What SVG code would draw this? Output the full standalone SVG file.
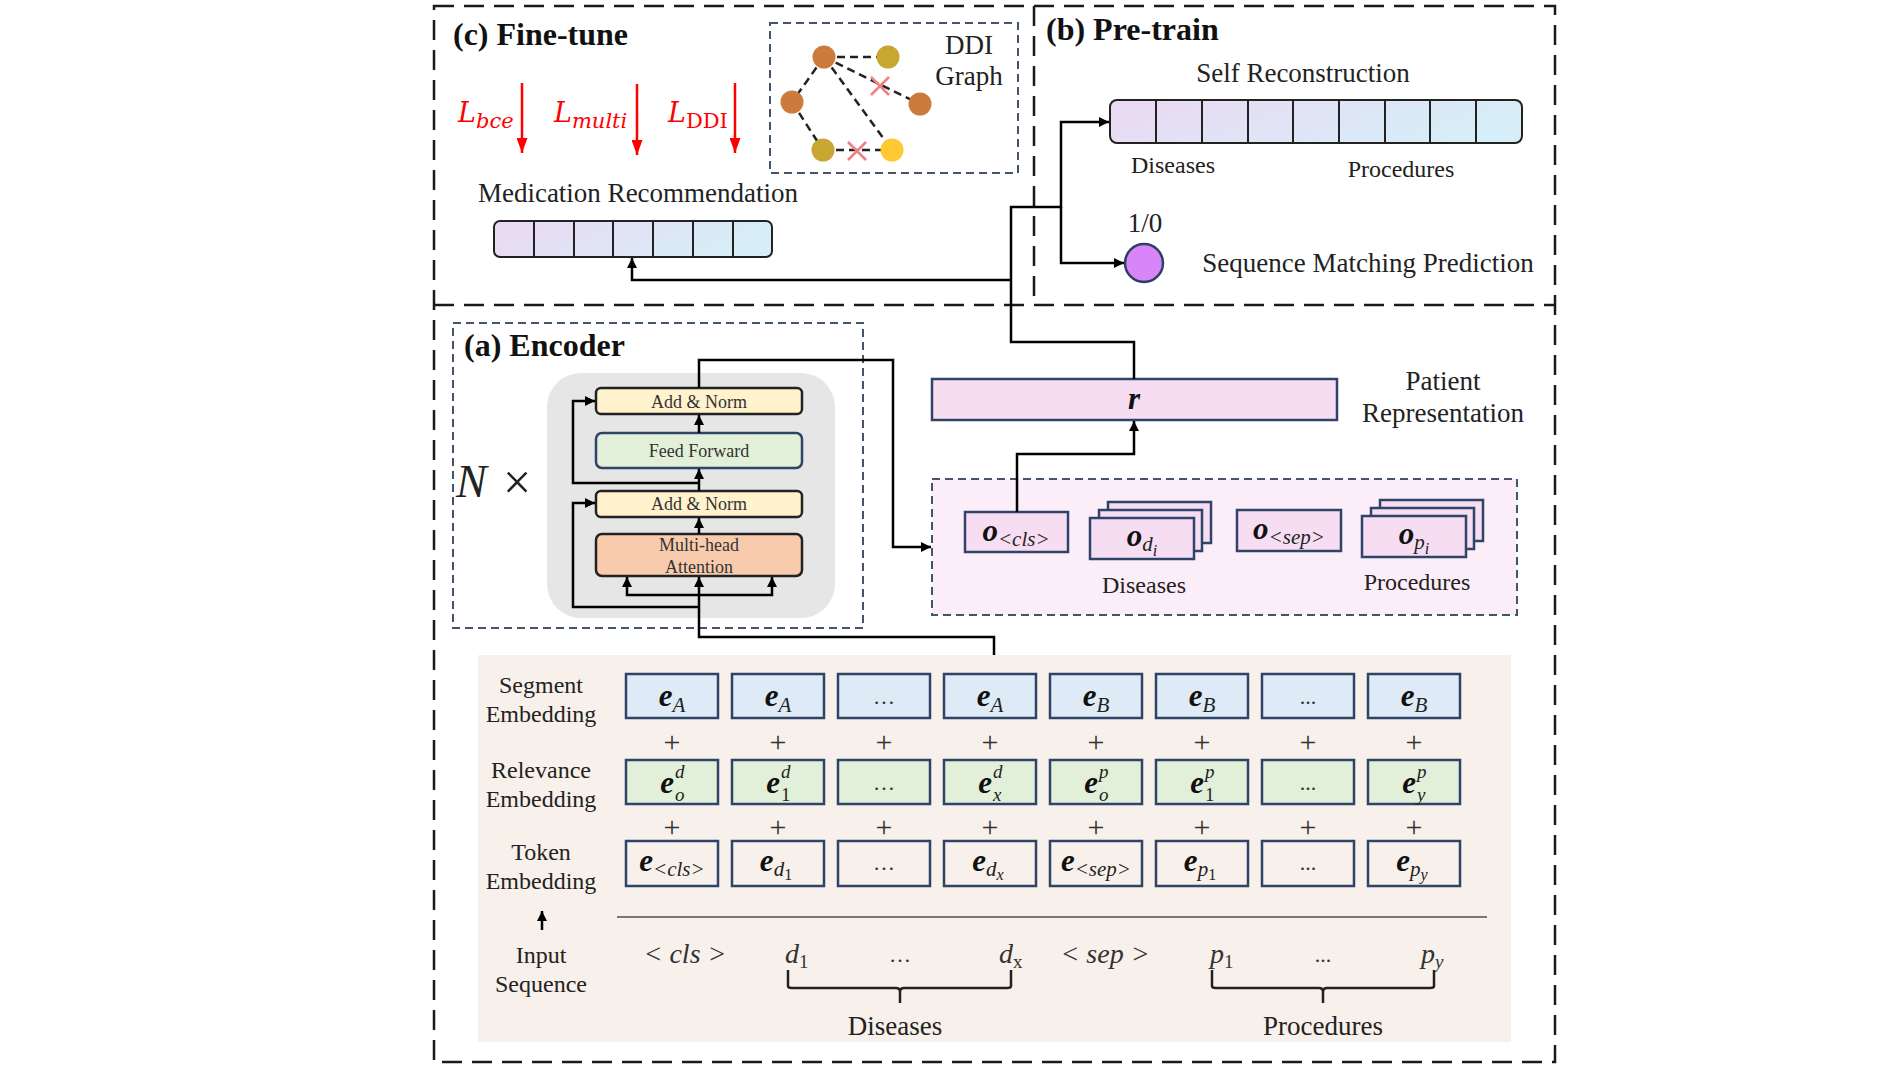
<svg xmlns="http://www.w3.org/2000/svg" width="1898" height="1069" viewBox="0 0 1898 1069">
<style>
.t{font-family:"Liberation Serif","Times New Roman",serif;fill:#222}
.title{font-weight:bold;font-size:32px;fill:#111}
.lbl{font-size:27px}
.sm{font-size:24px}
.blk{font-size:18px;fill:#333}
.be{font-family:"Liberation Serif",serif;font-weight:bold;font-style:italic;font-size:31px;fill:#111}
.sub{font-family:"Liberation Serif",serif;font-style:italic;font-size:21px;fill:#222;font-weight:normal}
.ss{font-family:"Liberation Serif",serif;font-style:italic;font-size:19px;fill:#222}
.sub2{font-family:"Liberation Serif",serif;font-style:italic;font-size:16px;fill:#222;font-weight:normal}
.up{font-style:normal}
.it{font-family:"Liberation Serif",serif;font-style:italic;font-size:28px;fill:#333}
.dots{font-family:"Liberation Serif",serif;font-size:22px;fill:#333}
.plus{font-family:"Liberation Serif",serif;font-size:30px;fill:#333}
.loss{font-family:"DejaVu Serif",serif;font-style:italic;font-size:27px;fill:#FF0000}
.conn{fill:none;stroke:#000;stroke-width:2.5}
.frame{fill:none;stroke:#1a1a1a;stroke-width:2.5;stroke-dasharray:20 10}
.idash{stroke:#44546A;stroke-width:2;stroke-dasharray:8 5}
.seg{fill:#DEEAF6;stroke:#2F4468;stroke-width:2.5}
.rel{fill:#E2F0D9;stroke:#2F4468;stroke-width:2.5}
.tok{fill:#F8F1EB;stroke:#2F4468;stroke-width:2.5}
.pk{fill:#F6DDF2;stroke:#2F4468;stroke-width:2.5}
.cell{stroke:#222;stroke-width:2}
.edge{stroke:#222;stroke-width:2.5;stroke-dasharray:8 5;fill:none}
.x{stroke:#F08080;stroke-width:2.5}
</style>
<defs>
<marker id="ah" viewBox="0 0 10 10" refX="10" refY="5" markerWidth="10" markerHeight="10" markerUnits="userSpaceOnUse" orient="auto"><path d="M0,0 L10,5 L0,10 z" fill="#000"/></marker>
<marker id="rah" viewBox="0 0 10 10" refX="10" refY="5" markerWidth="15" markerHeight="11" markerUnits="userSpaceOnUse" orient="auto" preserveAspectRatio="none"><path d="M0,0 L10,5 L0,10 z" fill="#FF0000"/></marker>
<linearGradient id="g1" x1="0" y1="0" x2="1" y2="0.3"><stop offset="0" stop-color="#ECD8F2"/><stop offset="1" stop-color="#D6EEF7"/></linearGradient>
</defs>
<rect width="1898" height="1069" fill="#fff"/>

<g id="frames">
<rect class="frame" x="434" y="6" width="1121" height="1056"/>
<line class="frame" x1="434" y1="305" x2="1555" y2="305"/>
<line class="frame" x1="1034" y1="6" x2="1034" y2="305"/>
</g>

<g id="finetune">
<text class="t title" x="453" y="45">(c) Fine-tune</text>
<g id="loss-bce"><text class="loss" x="458" y="122">L<tspan dy="6" font-size="21">bce</tspan></text><line x1="522" y1="83" x2="522" y2="153" stroke="#FF0000" stroke-width="2.5" marker-end="url(#rah)"/></g>
<g id="loss-multi"><text class="loss" x="554" y="122">L<tspan dy="6" font-size="21">multi</tspan></text><line x1="637" y1="84" x2="637" y2="155" stroke="#FF0000" stroke-width="2.5" marker-end="url(#rah)"/></g>
<g id="loss-ddi"><text class="loss" x="668" y="122">L<tspan dy="6" font-size="21" font-style="normal">DDI</tspan></text><line x1="735" y1="83" x2="735" y2="153" stroke="#FF0000" stroke-width="2.5" marker-end="url(#rah)"/></g>
<g id="ddi-graph">
<rect x="770" y="23" width="248" height="150" fill="none" class="idash"/>
<text class="t lbl" x="969" y="54" text-anchor="middle">DDI</text>
<text class="t lbl" x="969" y="85" text-anchor="middle">Graph</text>
<line class="edge" x1="824" y1="57" x2="888" y2="57"/>
<line class="edge" x1="824" y1="57" x2="792" y2="102"/>
<line class="edge" x1="824" y1="57" x2="920" y2="104"/>
<line class="edge" x1="824" y1="57" x2="892" y2="150"/>
<line class="edge" x1="792" y1="102" x2="823" y2="150"/>
<line class="edge" x1="823" y1="150" x2="892" y2="150"/>
<path class="x" d="M871,77 L889,95 M889,77 L871,95"/>
<path class="x" d="M848,142 L866,160 M866,142 L848,160"/>
<circle cx="824" cy="57" r="11.5" fill="#CD7B3C"/>
<circle cx="888" cy="57" r="11.5" fill="#C9A531"/>
<circle cx="792" cy="102" r="11.5" fill="#CD7B3C"/>
<circle cx="920" cy="104" r="11.5" fill="#CD7B3C"/>
<circle cx="823" cy="150" r="11.5" fill="#C9A531"/>
<circle cx="892" cy="150" r="11.5" fill="#FFC933"/>
</g>
<g id="med-rec">
<text class="t lbl" x="638" y="202" text-anchor="middle">Medication Recommendation</text>
<rect x="494" y="221" width="278" height="36" rx="6" fill="url(#g1)" stroke="#222" stroke-width="2"/>
<path class="cell" d="M534,221V257M574,221V257M613,221V257M653,221V257M693,221V257M733,221V257"/>
</g>
</g>

<g id="pretrain">
<text class="t title" x="1046" y="40">(b) Pre-train</text>
<text class="t lbl" x="1303" y="82" text-anchor="middle">Self Reconstruction</text>
<g id="self-rec">
<rect x="1110" y="100" width="412" height="43" rx="7" fill="url(#g1)" stroke="#222" stroke-width="2"/>
<path class="cell" d="M1156,100V143M1202,100V143M1248,100V143M1293,100V143M1339,100V143M1385,100V143M1430,100V143M1476,100V143"/>
</g>
<text class="t sm" x="1173" y="173" text-anchor="middle">Diseases</text>
<text class="t sm" x="1401" y="177" text-anchor="middle">Procedures</text>
<text class="t lbl" x="1145" y="232" text-anchor="middle">1/0</text>
<g id="smp"><circle cx="1144" cy="263" r="19" fill="#D886F7" stroke="#2F3F6A" stroke-width="2.5"/></g>
<text class="t lbl" x="1368" y="272" text-anchor="middle">Sequence Matching Prediction</text>
</g>

<g id="encoder">
<rect x="453" y="323" width="410" height="305" fill="none" class="idash"/>
<text class="t title" x="464" y="356">(a) Encoder</text>
<text x="456" y="497" font-family="Liberation Serif, serif" font-style="italic" font-size="46" fill="#222">N</text>
<text x="503" y="499" font-family="Liberation Serif, serif" font-size="50" fill="#222">×</text>
<rect x="547" y="373" width="288" height="245" rx="34" fill="#E6E6E6"/>
<g id="addnorm2"><rect x="596" y="388" width="206" height="26" rx="5" fill="#FFF2CC" stroke="#222" stroke-width="2.5"/><text class="t blk" x="699" y="408" text-anchor="middle">Add &amp; Norm</text></g>
<g id="feedforward"><rect x="596" y="433" width="206" height="35" rx="6" fill="#E2F0D9" stroke="#2F4468" stroke-width="2.5"/><text class="t blk" x="699" y="457" text-anchor="middle">Feed Forward</text></g>
<g id="addnorm1"><rect x="596" y="491" width="206" height="26" rx="5" fill="#FFF2CC" stroke="#222" stroke-width="2.5"/><text class="t blk" x="699" y="510" text-anchor="middle">Add &amp; Norm</text></g>
<g id="mha"><rect x="596" y="534" width="206" height="42" rx="6" fill="#F8CBAD" stroke="#222" stroke-width="2.5"/><text class="t blk" x="699" y="551" text-anchor="middle">Multi-head</text><text class="t blk" x="699" y="573" text-anchor="middle">Attention</text></g>
</g>

<g id="outputs">
<rect x="932" y="479" width="585" height="136" fill="#FCEEF9" class="idash"/>
<g id="o-cls"><rect class="pk" x="965" y="512" width="103" height="40"/><text x="1016" y="541" text-anchor="middle"><tspan class="be">o</tspan><tspan class="sub" dy="5">&lt;cls&gt;</tspan></text></g>
<g id="o-di"><rect class="pk" x="1108" y="502" width="103" height="41"/><rect class="pk" x="1099" y="510" width="103" height="41"/><rect class="pk" x="1090" y="518" width="104" height="41"/><text x="1142" y="546" text-anchor="middle"><tspan class="be">o</tspan><tspan class="sub" dy="5">d</tspan><tspan class="sub2" dy="5">i</tspan></text></g>
<g id="o-sep"><rect class="pk" x="1237" y="510" width="104" height="41"/><text x="1289" y="539" text-anchor="middle"><tspan class="be">o</tspan><tspan class="sub" dy="5">&lt;sep&gt;</tspan></text></g>
<g id="o-pi"><rect class="pk" x="1380" y="500" width="103" height="41"/><rect class="pk" x="1371" y="508" width="103" height="41"/><rect class="pk" x="1362" y="516" width="104" height="41"/><text x="1414" y="544" text-anchor="middle"><tspan class="be">o</tspan><tspan class="sub" dy="5">p</tspan><tspan class="sub2" dy="5">i</tspan></text></g>
<text class="t sm" x="1144" y="593" text-anchor="middle">Diseases</text>
<text class="t sm" x="1417" y="590" text-anchor="middle">Procedures</text>
</g>
<g id="patient-rep">
<rect class="pk" x="932" y="379" width="405" height="41"/>
<text class="be" x="1134" y="409" text-anchor="middle">r</text>
<text class="t lbl" x="1443" y="390" text-anchor="middle">Patient</text>
<text class="t lbl" x="1443" y="422" text-anchor="middle">Representation</text>
</g>

<g id="embeddings">
<rect x="478" y="655" width="1033" height="387" fill="#F8F0EA"/>
<text class="t sm" x="541" y="693" text-anchor="middle">Segment</text>
<text class="t sm" x="541" y="722" text-anchor="middle">Embedding</text>
<text class="t sm" x="541" y="778" text-anchor="middle">Relevance</text>
<text class="t sm" x="541" y="807" text-anchor="middle">Embedding</text>
<text class="t sm" x="541" y="860" text-anchor="middle">Token</text>
<text class="t sm" x="541" y="889" text-anchor="middle">Embedding</text>
<text class="t sm" x="541" y="963" text-anchor="middle">Input</text>
<text class="t sm" x="541" y="992" text-anchor="middle">Sequence</text>
<line x1="542" y1="930" x2="542" y2="911" stroke="#000" stroke-width="2.5" marker-end="url(#ah)"/>

<g id="segment-row">
<rect class="seg" x="626" y="674" width="92" height="44"/>
<rect class="seg" x="732" y="674" width="92" height="44"/>
<rect class="seg" x="838" y="674" width="92" height="44"/>
<rect class="seg" x="944" y="674" width="92" height="44"/>
<rect class="seg" x="1050" y="674" width="92" height="44"/>
<rect class="seg" x="1156" y="674" width="92" height="44"/>
<rect class="seg" x="1262" y="674" width="92" height="44"/>
<rect class="seg" x="1368" y="674" width="92" height="44"/>
<text x="672" y="706" text-anchor="middle"><tspan class="be">e</tspan><tspan class="sub" dy="6">A</tspan></text>
<text x="778" y="706" text-anchor="middle"><tspan class="be">e</tspan><tspan class="sub" dy="6">A</tspan></text>
<text class="dots" x="884" y="704" text-anchor="middle">…</text>
<text x="990" y="706" text-anchor="middle"><tspan class="be">e</tspan><tspan class="sub" dy="6">A</tspan></text>
<text x="1096" y="706" text-anchor="middle"><tspan class="be">e</tspan><tspan class="sub" dy="6">B</tspan></text>
<text x="1202" y="706" text-anchor="middle"><tspan class="be">e</tspan><tspan class="sub" dy="6">B</tspan></text>
<text class="dots" x="1308" y="704" text-anchor="middle" font-size="18">...</text>
<text x="1414" y="706" text-anchor="middle"><tspan class="be">e</tspan><tspan class="sub" dy="6">B</tspan></text>
</g>
<g id="plus-row">
<text class="plus" x="672" y="752" text-anchor="middle">+</text><text class="plus" x="778" y="752" text-anchor="middle">+</text><text class="plus" x="884" y="752" text-anchor="middle">+</text><text class="plus" x="990" y="752" text-anchor="middle">+</text><text class="plus" x="1096" y="752" text-anchor="middle">+</text><text class="plus" x="1202" y="752" text-anchor="middle">+</text><text class="plus" x="1308" y="752" text-anchor="middle">+</text><text class="plus" x="1414" y="752" text-anchor="middle">+</text>
<text class="plus" x="672" y="837" text-anchor="middle">+</text><text class="plus" x="778" y="837" text-anchor="middle">+</text><text class="plus" x="884" y="837" text-anchor="middle">+</text><text class="plus" x="990" y="837" text-anchor="middle">+</text><text class="plus" x="1096" y="837" text-anchor="middle">+</text><text class="plus" x="1202" y="837" text-anchor="middle">+</text><text class="plus" x="1308" y="837" text-anchor="middle">+</text><text class="plus" x="1414" y="837" text-anchor="middle">+</text>
</g>
<g id="relevance-row">
<rect class="rel" x="626" y="760" width="92" height="44"/>
<rect class="rel" x="732" y="760" width="92" height="44"/>
<rect class="rel" x="838" y="760" width="92" height="44"/>
<rect class="rel" x="944" y="760" width="92" height="44"/>
<rect class="rel" x="1050" y="760" width="92" height="44"/>
<rect class="rel" x="1156" y="760" width="92" height="44"/>
<rect class="rel" x="1262" y="760" width="92" height="44"/>
<rect class="rel" x="1368" y="760" width="92" height="44"/>
<text class="be" x="674" y="793" text-anchor="end">e</text><text class="ss" x="675" y="778">d</text><text class="ss" x="675" y="801">o</text>
<text class="be" x="780" y="793" text-anchor="end">e</text><text class="ss" x="781" y="778">d</text><text class="ss up" x="781" y="801">1</text>
<text class="dots" x="884" y="790" text-anchor="middle">…</text>
<text class="be" x="992" y="793" text-anchor="end">e</text><text class="ss" x="993" y="778">d</text><text class="ss" x="993" y="801">x</text>
<text class="be" x="1098" y="793" text-anchor="end">e</text><text class="ss" x="1099" y="778">p</text><text class="ss" x="1099" y="801">o</text>
<text class="be" x="1204" y="793" text-anchor="end">e</text><text class="ss" x="1205" y="778">p</text><text class="ss up" x="1205" y="801">1</text>
<text class="dots" x="1308" y="790" text-anchor="middle" font-size="18">...</text>
<text class="be" x="1416" y="793" text-anchor="end">e</text><text class="ss" x="1417" y="778">p</text><text class="ss" x="1417" y="801">y</text>
</g>
<g id="token-row">
<rect class="tok" x="626" y="841" width="92" height="45"/>
<rect class="tok" x="732" y="841" width="92" height="45"/>
<rect class="tok" x="838" y="841" width="92" height="45"/>
<rect class="tok" x="944" y="841" width="92" height="45"/>
<rect class="tok" x="1050" y="841" width="92" height="45"/>
<rect class="tok" x="1156" y="841" width="92" height="45"/>
<rect class="tok" x="1262" y="841" width="92" height="45"/>
<rect class="tok" x="1368" y="841" width="92" height="45"/>
<text x="672" y="871" text-anchor="middle"><tspan class="be">e</tspan><tspan class="sub" dy="5">&lt;cls&gt;</tspan></text>
<text x="776" y="871" text-anchor="middle"><tspan class="be">e</tspan><tspan class="sub" dy="5">d</tspan><tspan class="sub2 up" dy="4">1</tspan></text>
<text class="dots" x="884" y="870" text-anchor="middle">…</text>
<text x="988" y="871" text-anchor="middle"><tspan class="be">e</tspan><tspan class="sub" dy="5">d</tspan><tspan class="sub2" dy="4">x</tspan></text>
<text x="1096" y="871" text-anchor="middle"><tspan class="be">e</tspan><tspan class="sub" dy="5">&lt;sep&gt;</tspan></text>
<text x="1200" y="871" text-anchor="middle"><tspan class="be">e</tspan><tspan class="sub" dy="5">p</tspan><tspan class="sub2 up" dy="4">1</tspan></text>
<text class="dots" x="1308" y="870" text-anchor="middle" font-size="18">...</text>
<text x="1412" y="871" text-anchor="middle"><tspan class="be">e</tspan><tspan class="sub" dy="5">p</tspan><tspan class="sub2" dy="4">y</tspan></text>
</g>
<line x1="617" y1="917" x2="1487" y2="917" stroke="#777" stroke-width="2"/>
<g id="input-seq">
<text class="it" x="685" y="963" text-anchor="middle">&lt; cls &gt;</text>
<text class="it" x="785" y="963">d<tspan font-size="19" font-style="normal" dy="5">1</tspan></text>
<text class="dots" x="900" y="962" text-anchor="middle" font-size="18">…</text>
<text class="it" x="999" y="963">d<tspan font-size="19" font-style="normal" dy="5">x</tspan></text>
<text class="it" x="1105" y="963" text-anchor="middle">&lt; sep &gt;</text>
<text class="it" x="1210" y="963">p<tspan font-size="19" font-style="normal" dy="5">1</tspan></text>
<text class="dots" x="1323" y="962" text-anchor="middle" font-size="18">...</text>
<text class="it" x="1421" y="963">p<tspan font-size="19" dy="5">y</tspan></text>
<path d="M788,970 V986 Q788,988 792,988 H896 Q900,988 900,992 V1003 M900,992 Q900,988 904,988 H1007 Q1011,988 1011,986 V970" fill="none" stroke="#222" stroke-width="2.5"/>
<path d="M1212,970 V986 Q1212,988 1216,988 H1319 Q1323,988 1323,992 V1003 M1323,992 Q1323,988 1327,988 H1430 Q1434,988 1434,986 V970" fill="none" stroke="#222" stroke-width="2.5"/>
<text class="t lbl" x="895" y="1035" text-anchor="middle">Diseases</text>
<text class="t lbl" x="1323" y="1035" text-anchor="middle">Procedures</text>
</g>
</g>

<g id="connectors" class="conn">
<path d="M699,388 V360 H893 V547 H931" marker-end="url(#ah)"/>
<path d="M994,655 V637 H699 V577" marker-end="url(#ah)"/>
<path d="M699,595 H627 V577" marker-end="url(#ah)"/>
<path d="M699,595 H772 V577" marker-end="url(#ah)"/>
<path d="M699,607 H573 V503 H595" marker-end="url(#ah)"/>
<path d="M699,534 V518" marker-end="url(#ah)"/>
<path d="M699,491 V469" marker-end="url(#ah)"/>
<path d="M699,483 H573 V401 H595" marker-end="url(#ah)"/>
<path d="M699,433 V415" marker-end="url(#ah)"/>
<path d="M1017,512 V454 H1134 V421" marker-end="url(#ah)"/>
<path d="M1134,379 V342 H1011 V207 H1061 V122 H1109" marker-end="url(#ah)"/>
<path d="M1061,207 V263 H1124" marker-end="url(#ah)"/>
<path d="M1011,280 H632 V258" marker-end="url(#ah)"/>
</g>
</svg>
